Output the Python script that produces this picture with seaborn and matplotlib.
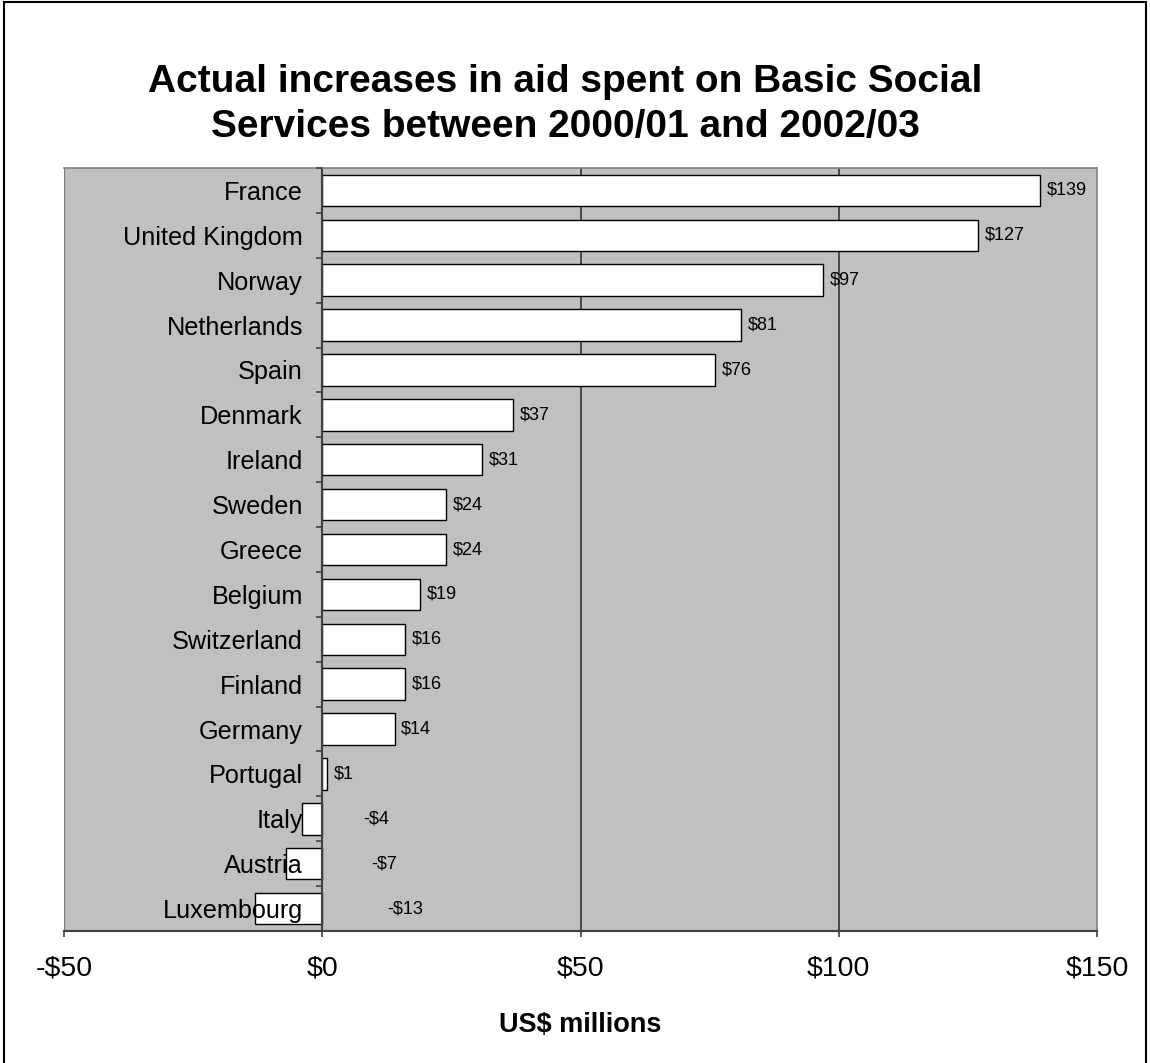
import numpy as np
import pandas as pd
import matplotlib.pyplot as plt
import seaborn as sns
from matplotlib.patches import Rectangle

# data (US$ millions)
countries = ["France", "United Kingdom", "Norway", "Netherlands", "Spain",
             "Denmark", "Ireland", "Sweden", "Greece", "Belgium",
             "Switzerland", "Finland", "Germany", "Portugal", "Italy",
             "Austria", "Luxembourg"]
increases = [139, 127, 97, 81, 76, 37, 31, 24, 24, 19, 16, 16, 14, 1, -4, -7, -13]
x_ticks = [-50, 0, 50, 100, 150]
x_tick_labels = ["-$50", "$0", "$50", "$100", "$150"]
gridlines = [50, 100]

df = pd.DataFrame({"country": countries, "increase": increases})

sns.set_style("white")
plt.rcParams["font.family"] = ["Liberation Sans", "DejaVu Sans"]
plt.rcParams["text.color"] = "black"
plt.rcParams["xtick.labelcolor"] = "black"
plt.rcParams["ytick.labelcolor"] = "black"

W, H = 1150, 1063
fig = plt.figure(figsize=(W / 100, H / 100), dpi=100)
ax = fig.add_axes([64 / W, 1 - 931 / H, (1097 - 64) / W, (931 - 168) / H])
ax.set_facecolor("#c0c0c0")
ax.set_axisbelow(False)

# gridlines behind bars
for g in gridlines:
    ax.axvline(g, color="#333333", lw=1.2, zorder=0.5)
ax.axvline(-50, color="#808080", lw=1, zorder=0.5)

sns.barplot(data=df, y="country", x="increase", orient="h", color="white",
            saturation=1, edgecolor="black", linewidth=1, width=0.7, ax=ax)

ax.set_xlim(-50, 150)
ax.set_ylim(len(countries) - 0.5, -0.5)

# value labels
for i, v in enumerate(increases):
    if v >= 0:
        ax.text(v + 1.3, i, f"${v}", va="center", ha="left", fontsize=13)
    else:
        ax.text(6 + 0.5 * abs(v), i, f"-${abs(v)}", va="center", ha="left", fontsize=13)

# spines
ax.spines["left"].set_position(("data", 0))
ax.spines["left"].set_color("#404040")
ax.spines["left"].set_linewidth(1.5)
ax.spines["bottom"].set_color("#404040")
ax.spines["bottom"].set_linewidth(1.5)
for s in ["top", "right"]:
    ax.spines[s].set_color("#808080")
    ax.spines[s].set_linewidth(1.2)

# y axis: labels at centres, tick marks between categories
ax.set_yticks(range(len(countries)), countries)
ax.set_yticks(np.arange(-0.5, len(countries), 1), minor=True)
ax.tick_params(axis="y", which="major", length=0, pad=14, labelsize=18.2)
ax.tick_params(axis="y", which="minor", left=True, length=4.5, width=1.2,
               color="#404040", direction="out")

ax.set_xticks(x_ticks, x_tick_labels)
ax.tick_params(axis="x", which="major", bottom=True, length=4, width=1.2,
               color="#404040", direction="out", pad=14, labelsize=20.5)
ax.set_xlabel("")
ax.set_ylabel("")

fig.text(565 / W, 1 - 82 / H, "Actual increases in aid spent on Basic Social",
         ha="center", va="center", fontsize=28, fontweight="bold")
fig.text(565 / W, 1 - 127 / H, "Services between 2000/01 and 2002/03",
         ha="center", va="center", fontsize=28, fontweight="bold")
fig.text(580 / W, 1 - 1025 / H, "US$ millions", ha="center", va="center",
         fontsize=19.5, fontweight="bold")

fig.add_artist(Rectangle((4 / W, -0.01), (1146 - 4) / W, 1.01 - 2 / H,
                         transform=fig.transFigure, fill=False,
                         edgecolor="black", lw=1.5))

fig.savefig("out.png", dpi=100)
